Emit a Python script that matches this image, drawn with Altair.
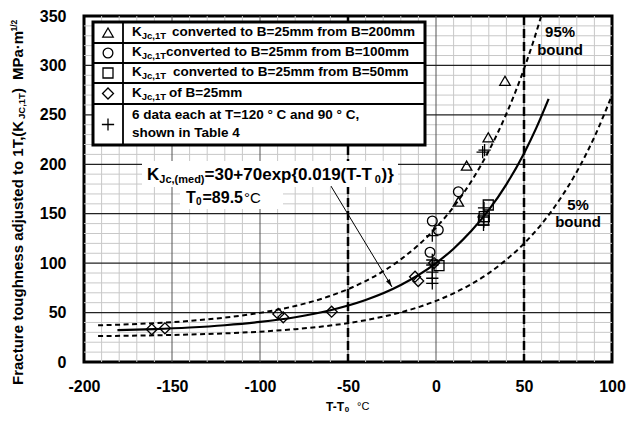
import altair as alt
import pandas as pd

FONT = "Liberation Sans"

# ---------------- data ----------------
tri_x = [17.4, 12.7, 29.7, 39.2]
tri_y = [198.6, 162.2, 227.3, 284.5]
cir_x = [12.7, -2.1, 1.3, -3.4]
cir_y = [172.3, 142.6, 133.5, 111.0]
sq_x = [29.7, 27.4, 27.0, 1.7]
sq_y = [158.8, 147.0, 143.6, 97.4]
dia_x = [-161.5, -154.0, -89.6, -86.8, -59.3, -11.9, -10.1, -1.1]
dia_y = [33.1, 34.1, 48.6, 45.2, 50.9, 86.3, 81.9, 100.1]
plus_x = [-2.1, -2.1, -2.1, -2.1, -2.1, -2.1, 27.6, 26.5, 27.3, 27.0, 27.2, 27.0]
plus_y = [127.8, 103.2, 98.1, 91.0, 84.7, 79.6, 214.4, 212.4, 156.0, 146.7, 141.9, 138.6]

# curves (median and bounds)
med_x = [-181, -160, -140, -120, -100, -80, -60, -40, -20, 0, 10, 20, 30, 40, 50, 57, 64]
med_y = [32.2, 33.3, 34.9, 37.2, 40.5, 45.3, 52.4, 62.7, 77.9, 100.0, 114.6, 132.4, 153.8, 179.7, 211.0, 236.8, 266.2]
up_x = [-192, -160, -130, -100, -80, -60, -40, -20, 0, 10, 20, 30, 40, 50, 55, 59.8]
up_y = [37.1, 39.3, 43.1, 49.7, 56.7, 66.9, 81.9, 103.8, 135.8, 157.0, 182.6, 213.6, 251.1, 296.4, 322.5, 350.0]
lo_x = [-192, -160, -130, -100, -80, -60, -40, -20, 0, 10, 20, 30, 40, 50, 60, 70, 80, 90, 100]
lo_y = [26.2, 27.0, 28.3, 30.7, 33.2, 36.9, 42.3, 50.2, 61.8, 69.5, 78.7, 89.9, 103.5, 119.8, 139.6, 163.6, 192.5, 227.6, 269.9]

vlines_x = [-50, 50]
x_ticks = [-200, -150, -100, -50, 0, 50, 100]
y_ticks = [0, 50, 100, 150, 200, 250, 300, 350]
minor_x = [v for v in range(-190, 100, 10) if v % 50 != 0]
minor_y = [v for v in range(10, 350, 10) if v % 50 != 0]
major_x = [-150, -100, -50, 0, 50]
major_y = [50, 100, 150, 200, 250, 300]

arrow_x = [-59.7, -25.0]
arrow_y = [178.0, 75.9]

bound_labels = ["95%", "bound", "5%", "bound"]
bound_lx = [70.5, 70.5, 80.7, 80.7]
bound_ly = [334.0, 315.5, 158.8, 141.6]

legend_rows = [
    "converted to B=25mm from B=200mm",
    "converted to B=25mm from B=100mm",
    "converted to B=25mm from B=50mm",
    "of B=25mm",
]
legend_last = ["6 data each at T=120 \u00b0 C and 90 \u00b0 C,", "shown in Table 4"]

# ---------------- scales / axes ----------------
xs = alt.Scale(domain=[-200, 100], nice=False, zero=False)
ys = alt.Scale(domain=[0, 350], nice=False, zero=False)
xaxis = alt.Axis(values=x_ticks, labelExpr="'' + datum.value", title=None, ticks=False,
                 domain=False, grid=False, labelFont=FONT, labelFontSize=16,
                 labelFontWeight="bold", labelColor="black", labelPadding=16,
                 labelFlush=False, labelOverlap=False)
yaxis = alt.Axis(values=y_ticks, labelExpr="'' + datum.value", title=None, ticks=False,
                 domain=False, grid=False, labelFont=FONT, labelFontSize=16,
                 labelFontWeight="bold", labelColor="black", labelPadding=18,
                 labelOverlap=False)

X = lambda f: alt.X(f, type="quantitative", scale=xs, axis=xaxis)
Y = lambda f: alt.Y(f, type="quantitative", scale=ys, axis=yaxis)

layers = []

# gridlines
layers.append(alt.Chart(pd.DataFrame({"v": minor_x})).mark_rule(color="#c8c8c8", strokeWidth=1).encode(x=X("v")))
layers.append(alt.Chart(pd.DataFrame({"v": minor_y})).mark_rule(color="#c8c8c8", strokeWidth=1).encode(y=Y("v")))
layers.append(alt.Chart(pd.DataFrame({"v": major_x})).mark_rule(color="#555555", strokeWidth=1).encode(x=X("v")))
layers.append(alt.Chart(pd.DataFrame({"v": major_y})).mark_rule(color="#222222", strokeWidth=1.2).encode(y=Y("v")))

# vertical dashed lines
layers.append(alt.Chart(pd.DataFrame({"v": vlines_x})).mark_rule(color="black", strokeWidth=2.5, strokeDash=[9, 4]).encode(x=X("v")))

# curves
layers.append(alt.Chart(pd.DataFrame({"x": up_x, "y": up_y})).mark_line(
    color="black", strokeWidth=2, strokeDash=[5, 3.5], interpolate="monotone", clip=True).encode(x=X("x"), y=Y("y")))
layers.append(alt.Chart(pd.DataFrame({"x": lo_x, "y": lo_y})).mark_line(
    color="black", strokeWidth=2, strokeDash=[5, 3.5], interpolate="monotone", clip=True).encode(x=X("x"), y=Y("y")))
layers.append(alt.Chart(pd.DataFrame({"x": med_x, "y": med_y})).mark_line(
    color="black", strokeWidth=2.2, interpolate="monotone", clip=True).encode(x=X("x"), y=Y("y")))

PLUS = "M-1,0H1M0,-1V1"
series = [
    (tri_x, tri_y, "triangle-up", 110),
    (cir_x, cir_y, "circle", 95),
    (sq_x, sq_y, "square", 100),
    (dia_x, dia_y, "diamond", 120),
    (plus_x, plus_y, PLUS, 150),
]
for sx, sy, shp, sz in series:
    layers.append(alt.Chart(pd.DataFrame({"x": sx, "y": sy})).mark_point(
        shape=shp, size=sz, filled=False, color="black", strokeWidth=1.3, opacity=1).encode(x=X("x"), y=Y("y")))

one = pd.DataFrame({"k": [0]})


def txt(s, px, py, size, weight="bold", align="left", angle=0, baseline="middle"):
    return alt.Chart(one).mark_text(text=s, font=FONT, fontSize=size, fontWeight=weight, align=align,
                                    baseline=baseline, angle=angle, color="black").encode(
        x=alt.value(px), y=alt.value(py))


def box(x1, x2, y1, y2, fill="white", stroke=None, sw=0):
    kw = dict(fill=fill)
    if stroke:
        kw.update(stroke=stroke, strokeWidth=sw)
    else:
        kw.update(strokeWidth=0)
    return alt.Chart(one).mark_rect(**kw).encode(
        x=alt.value(x1), x2=alt.value(x2), y=alt.value(y1), y2=alt.value(y2))


def line(x1, x2, y1, y2, sw=1.5):
    return alt.Chart(one).mark_rule(color="black", strokeWidth=sw).encode(
        x=alt.value(x1), x2=alt.value(x2), y=alt.value(y1), y2=alt.value(y2))


# annotation backgrounds and text
layers.append(box(58, 314, 145, 171))
layers.append(box(96, 199, 171, 193))
layers.append(txt("K", 63, 159, 17))
layers.append(txt("Jc,(med)", 75.3, 164, 11))
layers.append(txt("=30+70exp{0.019(T-T", 120.5, 159, 17))
layers.append(txt("0", 290.8, 164, 11))
layers.append(txt(")}", 297.5, 159, 17))
layers.append(txt("T", 102, 182, 16))
layers.append(txt("0", 112, 186, 10))
layers.append(txt("=89.5", 118.5, 182, 16))
layers.append(txt("\u00b0C", 160, 182, 15, weight="normal"))

# arrow
adf = pd.DataFrame({"x": [arrow_x[0]], "x2": [arrow_x[1]], "y": [arrow_y[0]], "y2": [arrow_y[1]]})
layers.append(alt.Chart(adf).mark_rule(color="black", strokeWidth=1).encode(
    x=X("x"), x2="x2:Q", y=Y("y"), y2="y2:Q"))
layers.append(alt.Chart(pd.DataFrame({"x": [arrow_x[1]], "y": [arrow_y[1]]})).mark_point(
    shape="M0,0L-0.35,1.3L0.35,1.3Z", size=150, filled=True, color="black", angle=149, opacity=1).encode(
    x=X("x"), y=Y("y")))

# bound labels
layers.append(alt.Chart(pd.DataFrame({"x": bound_lx, "y": bound_ly, "t": bound_labels})).mark_text(
    font=FONT, fontSize=15, fontWeight="bold", color="black").encode(x=X("x"), y=Y("y"), text="t:N"))

# legend table
L, R, T, B, D = 9, 341, 6, 129, 39
layers.append(box(L, R, T, B, fill="white", stroke="black", sw=3))
for yy in [27, 47, 67, 88]:
    layers.append(line(L, R, yy, yy, 1.8))
layers.append(line(D, D, T, B, 1.8))
sym_y = [16.5, 37, 57, 77.5, 108.5]
for (sx, sy, shp, sz), yy in zip(series, sym_y):
    layers.append(alt.Chart(one).mark_point(shape=shp, size=sz, filled=False, color="black",
                                            strokeWidth=1.3, opacity=1).encode(x=alt.value(24), y=alt.value(yy)))
row_y = [16, 36, 56, 76.5]
row_tx = [88, 82, 89, 85]
for s, yy, tx in zip(legend_rows, row_y, row_tx):
    layers.append(txt("K", 48, yy, 13.5))
    layers.append(txt("Jc,1T", 57.8, yy + 4, 9.5))
    layers.append(txt(s, tx, yy, 13.5))
layers.append(txt(legend_last[0], 48, 99, 13.5))
layers.append(txt(legend_last[1], 48, 117, 13.5))

# y-axis title (rotated, pieces)
layers.append(txt("Fracture toughness adjusted to 1T,(K", -66, 369, 15, angle=270))
layers.append(txt("JC,1T", -62, 103, 9.5, angle=270))
layers.append(txt(")", -66, 77, 15, angle=270))
layers.append(txt("MPa\u00b7m", -66, 64, 15, angle=270))
layers.append(txt("1/2", -70.5, 15.5, 8.5, angle=270))

# x-axis title
layers.append(txt("T-T", 242, 391, 12))
layers.append(txt("0", 260.8, 394, 8))
layers.append(txt("\u00b0C", 273, 391, 11, weight="normal"))

chart = alt.layer(*layers).properties(
    width=528, height=346,
    autosize=alt.AutoSizeParams(type="none"),
    padding={"left": 76, "top": 8, "right": 16, "bottom": 56},
).configure_view(stroke="black", strokeWidth=3)

chart.save("out.html", embed_options={"renderer": "svg", "actions": False})
